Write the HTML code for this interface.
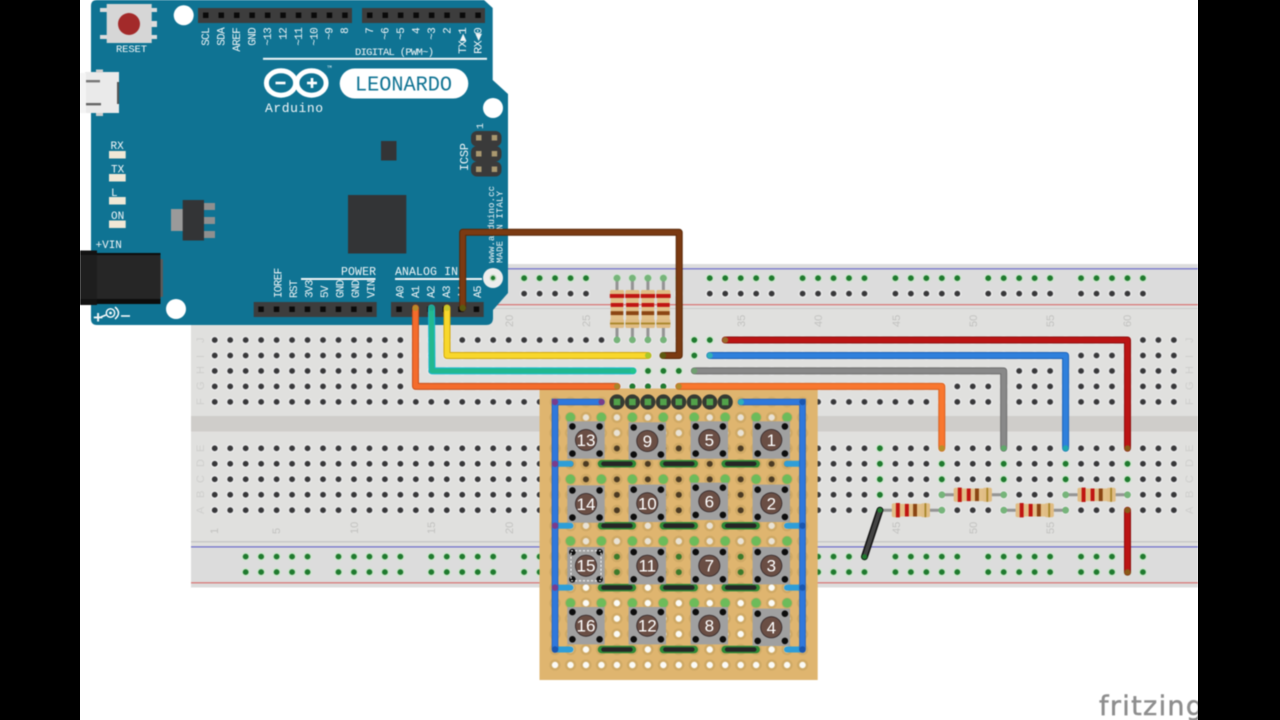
<!DOCTYPE html>
<html lang="en"><head><meta charset="utf-8"><title>Arduino Leonardo keypad wiring</title>
<style>
html,body{margin:0;padding:0;background:#000;width:1280px;height:720px;overflow:hidden}
svg{display:block}
.m{font-family:"Liberation Mono","DejaVu Sans Mono",monospace;fill:#f2f6f7}
.n{font-family:"Liberation Sans",sans-serif;fill:#c2c2c0;font-size:11px}
.b{font-family:"Liberation Sans",sans-serif;fill:#fff;font-size:17px;text-anchor:middle}
.t{font-size:11px;letter-spacing:-.7px;text-anchor:end}
.u{font-size:11px;letter-spacing:-.7px}
</style></head><body>
<svg xmlns="http://www.w3.org/2000/svg" width="1280" height="720" viewBox="0 0 1280 720">
<defs>
<pattern id="hD" patternUnits="userSpaceOnUse" x="207" y="332.27" width="15.47" height="15.47"><circle cx="7.73" cy="7.73" r="4.4" fill="#e9e9e9"/><circle cx="7.73" cy="7.73" r="2.9" fill="#38383a"/></pattern>
<pattern id="rG" patternUnits="userSpaceOnUse" x="237.94" y="270.4" width="92.82" height="15.47"><g fill="#cfe6cf"><circle cx="7.73" cy="7.73" r="4.4"/><circle cx="23.2" cy="7.73" r="4.4"/><circle cx="38.67" cy="7.73" r="4.4"/><circle cx="54.14" cy="7.73" r="4.4"/><circle cx="69.61" cy="7.73" r="4.4"/></g><g fill="#1f7a2e"><circle cx="7.73" cy="7.73" r="2.9"/><circle cx="23.2" cy="7.73" r="2.9"/><circle cx="38.67" cy="7.73" r="2.9"/><circle cx="54.14" cy="7.73" r="2.9"/><circle cx="69.61" cy="7.73" r="2.9"/></g></pattern>
<pattern id="rD" patternUnits="userSpaceOnUse" x="237.94" y="270.4" width="92.82" height="15.47"><g fill="#e9e9e9"><circle cx="7.73" cy="7.73" r="4.4"/><circle cx="23.2" cy="7.73" r="4.4"/><circle cx="38.67" cy="7.73" r="4.4"/><circle cx="54.14" cy="7.73" r="4.4"/><circle cx="69.61" cy="7.73" r="4.4"/></g><g fill="#38383a"><circle cx="7.73" cy="7.73" r="2.9"/><circle cx="23.2" cy="7.73" r="2.9"/><circle cx="38.67" cy="7.73" r="2.9"/><circle cx="54.14" cy="7.73" r="2.9"/><circle cx="69.61" cy="7.73" r="2.9"/></g></pattern>
<pattern id="pT" patternUnits="userSpaceOnUse" x="547.3" y="394.27" width="15.47" height="15.47"><circle cx="7.73" cy="7.73" r="5.4" fill="#d3ac68"/><circle cx="7.73" cy="7.73" r="3" fill="#dcb36e"/></pattern>
<pattern id="pW" patternUnits="userSpaceOnUse" x="547.3" y="394.27" width="15.47" height="15.47"><circle cx="7.73" cy="7.73" r="5.6" fill="#cfa965"/><circle cx="7.73" cy="7.73" r="3.2" fill="#fbfbf6"/></pattern>
<pattern id="pL" patternUnits="userSpaceOnUse" x="547.3" y="394.27" width="15.47" height="15.47"><circle cx="7.73" cy="7.73" r="5.6" fill="#cfa965"/><circle cx="7.73" cy="7.73" r="3.2" fill="#e9e2d4"/></pattern>
<pattern id="pD" patternUnits="userSpaceOnUse" x="547.3" y="394.27" width="15.47" height="15.47"><circle cx="7.73" cy="7.73" r="5.6" fill="#cfa965"/><circle cx="7.73" cy="7.73" r="3" fill="#4b3a22"/></pattern>
<pattern id="pG" patternUnits="userSpaceOnUse" x="547.3" y="394.27" width="15.47" height="15.47"><circle cx="7.73" cy="7.73" r="5.6" fill="#cfa965"/><circle cx="7.73" cy="7.73" r="3" fill="#3c7a2a"/></pattern>
<pattern id="pP" patternUnits="userSpaceOnUse" x="562.74" y="409.62" width="30.94" height="61.88"><circle cx="7.73" cy="7.73" r="4.8" fill="#6dbb5a"/></pattern>
<g id="btn"><rect x="-18.7" y="-18.7" width="37.4" height="37.4" fill="#a0a0a0"/><g fill="#0d0d0d"><circle cx="-13.6" cy="-13.6" r="3.3"/><circle cx="13.6" cy="-13.6" r="3.3"/><circle cx="-13.6" cy="13.6" r="3.3"/><circle cx="13.6" cy="13.6" r="3.3"/></g><circle r="11" fill="#33282a"/><circle r="10.2" fill="#6a4e44"/></g>
<g id="res"><line x1="-30.9" x2="30.9" y1="0" y2="0" stroke="#949494" stroke-width="3"/><circle cx="-30.9" r="3.4" fill="#76b47a"/><circle cx="30.9" r="3.4" fill="#76b47a"/><rect x="-19" y="-6.3" width="38" height="12.6" fill="#e2c088"/><rect x="-19" y="-7" width="9" height="14" rx="2" fill="#e0bd85"/><rect x="10" y="-7" width="9" height="14" rx="2" fill="#e0bd85"/><rect x="-15" y="-7.2" width="3.9" height="14.4" fill="#c01512"/><rect x="-6" y="-6.3" width="3.9" height="12.6" fill="#c01512"/><rect x="2.2" y="-6.3" width="3.9" height="12.6" fill="#8b4513"/><rect x="13.6" y="-7" width="1.8" height="14" fill="#a9862a"/></g>
</defs>
<rect width="1280" height="720" fill="#000"/>
<rect x="80" y="0" width="1118" height="720" fill="#fff"/>
<g style="filter:blur(.5px)">
<!-- breadboard -->
<rect x="191" y="264" width="1007" height="323.5" fill="#e0e0de"/>
<rect x="191" y="264" width="1007" height="42" fill="#dcdcdc"/>
<rect x="191" y="545" width="1007" height="42.5" fill="#dcdcdc"/>
<rect x="191" y="416" width="1007" height="15.5" fill="#cfcdca"/>
<rect x="191" y="268.3" width="1007" height="1" fill="#5a5ac8"/>
<rect x="191" y="304.2" width="1007" height="1" fill="#d9605f"/>
<rect x="191" y="308" width="1007" height="1" fill="#c9c9c9"/>
<rect x="191" y="541.3" width="1007" height="1" fill="#bdbdbd"/>
<rect x="191" y="546.4" width="1007" height="1" fill="#5a5ac8"/>
<rect x="191" y="582.3" width="1007" height="1" fill="#d9605f"/>
<rect x="207" y="332.27" width="974.6" height="77.35" fill="url(#hD)"/>
<rect x="207" y="440.56" width="974.6" height="77.35" fill="url(#hD)"/>
<rect x="237.94" y="270.4" width="928.2" height="15.47" fill="url(#rG)"/>
<rect x="237.94" y="285.87" width="928.2" height="15.47" fill="url(#rD)"/>
<rect x="237.94" y="548.97" width="928.2" height="30.94" fill="url(#rG)"/>
<!-- green connected holes -->
<g fill="#cfe6cf"><circle cx="648" cy="370.9" r="4.4"/><circle cx="663.4" cy="370.9" r="4.4"/><circle cx="678.8" cy="370.9" r="4.4"/><circle cx="694.3" cy="355.5" r="4.4"/><circle cx="694.3" cy="340" r="4.4"/><circle cx="709.8" cy="340" r="4.4"/><circle cx="879.9" cy="448.3" r="4.4"/><circle cx="879.9" cy="463.8" r="4.4"/><circle cx="879.9" cy="479.3" r="4.4"/><circle cx="879.9" cy="494.8" r="4.4"/><circle cx="941.8" cy="463.8" r="4.4"/><circle cx="941.8" cy="479.3" r="4.4"/><circle cx="1003.7" cy="463.8" r="4.4"/><circle cx="1003.7" cy="479.3" r="4.4"/><circle cx="1065.6" cy="463.8" r="4.4"/><circle cx="1065.6" cy="479.3" r="4.4"/><circle cx="1127.5" cy="463.8" r="4.4"/><circle cx="1127.5" cy="479.3" r="4.4"/></g>
<g fill="#1f7a2e"><circle cx="648" cy="370.9" r="2.9"/><circle cx="663.4" cy="370.9" r="2.9"/><circle cx="678.8" cy="370.9" r="2.9"/><circle cx="694.3" cy="355.5" r="2.9"/><circle cx="694.3" cy="340" r="2.9"/><circle cx="709.8" cy="340" r="2.9"/><circle cx="632.4" cy="386.4" r="2.9"/><circle cx="648" cy="386.4" r="2.9"/><circle cx="663.4" cy="386.4" r="2.9"/><circle cx="879.9" cy="448.3" r="2.9"/><circle cx="879.9" cy="463.8" r="2.9"/><circle cx="879.9" cy="479.3" r="2.9"/><circle cx="879.9" cy="494.8" r="2.9"/><circle cx="941.8" cy="463.8" r="2.9"/><circle cx="941.8" cy="479.3" r="2.9"/><circle cx="1003.7" cy="463.8" r="2.9"/><circle cx="1003.7" cy="479.3" r="2.9"/><circle cx="1065.6" cy="463.8" r="2.9"/><circle cx="1065.6" cy="479.3" r="2.9"/><circle cx="1127.5" cy="463.8" r="2.9"/><circle cx="1127.5" cy="479.3" r="2.9"/></g>
<!-- breadboard labels -->
<g class="n">
<text transform="translate(513,327) rotate(-90)">20</text><text transform="translate(590,327) rotate(-90)">25</text><text transform="translate(745,327) rotate(-90)">35</text><text transform="translate(822,327) rotate(-90)">40</text><text transform="translate(900,327) rotate(-90)">45</text><text transform="translate(977,327) rotate(-90)">50</text><text transform="translate(1054,327) rotate(-90)">55</text><text transform="translate(1131,327) rotate(-90)">60</text>
<text transform="translate(218,534) rotate(-90)">1</text><text transform="translate(280,534) rotate(-90)">5</text><text transform="translate(358,534) rotate(-90)">10</text><text transform="translate(435,534) rotate(-90)">15</text><text transform="translate(513,534) rotate(-90)">20</text><text transform="translate(900,534) rotate(-90)">45</text><text transform="translate(977,534) rotate(-90)">50</text><text transform="translate(1054,534) rotate(-90)">55</text>
</g>
<g class="n" style="fill:#cfcfcd">
<text transform="translate(204,343) rotate(-90)">J</text><text transform="translate(204,358) rotate(-90)">I</text><text transform="translate(204,374) rotate(-90)">H</text><text transform="translate(204,390) rotate(-90)">G</text><text transform="translate(204,405) rotate(-90)">F</text><text transform="translate(204,452) rotate(-90)">E</text><text transform="translate(204,467) rotate(-90)">D</text><text transform="translate(204,483) rotate(-90)">C</text><text transform="translate(204,498) rotate(-90)">B</text><text transform="translate(204,514) rotate(-90)">A</text>
<text transform="translate(1193,343) rotate(-90)">J</text><text transform="translate(1193,358) rotate(-90)">I</text><text transform="translate(1193,374) rotate(-90)">H</text><text transform="translate(1193,390) rotate(-90)">G</text><text transform="translate(1193,405) rotate(-90)">F</text><text transform="translate(1193,452) rotate(-90)">E</text><text transform="translate(1193,467) rotate(-90)">D</text><text transform="translate(1193,483) rotate(-90)">C</text><text transform="translate(1193,498) rotate(-90)">B</text><text transform="translate(1193,514) rotate(-90)">A</text>
</g>
<!-- resistors -->
<use href="#res" transform="translate(617,309) rotate(90)"/><use href="#res" transform="translate(632.4,309) rotate(90)"/><use href="#res" transform="translate(647.9,309) rotate(90)"/><use href="#res" transform="translate(663.4,309) rotate(90)"/>
<use href="#res" transform="translate(910.9,510.2)"/><use href="#res" transform="translate(972.8,494.8)"/><use href="#res" transform="translate(1034.7,510.2)"/><use href="#res" transform="translate(1096.6,494.8)"/>
<!-- perfboard -->
<rect x="539.5" y="388.5" width="278.2" height="291.5" fill="#dfb56f"/>
<rect x="547.3" y="394.27" width="263" height="15.47" fill="url(#pT)"/>
<rect x="547.3" y="409.74" width="263" height="30.94" fill="url(#pL)"/>
<rect x="547.3" y="440.68" width="263" height="77.35" fill="url(#pD)"/>
<rect x="547.3" y="518.03" width="263" height="30.94" fill="url(#pL)"/>
<rect x="547.3" y="548.97" width="263" height="30.94" fill="url(#pG)"/>
<rect x="547.3" y="579.91" width="263" height="92.82" fill="url(#pW)"/>
<rect x="562.74" y="409.62" width="247.5" height="201" fill="url(#pP)"/>
<!-- header on perfboard -->
<g fill="#353a32"><circle cx="617" cy="402" r="7.6"/><circle cx="632.4" cy="402" r="7.6"/><circle cx="647.9" cy="402" r="7.6"/><circle cx="663.4" cy="402" r="7.6"/><circle cx="678.8" cy="402" r="7.6"/><circle cx="694.3" cy="402" r="7.6"/><circle cx="709.8" cy="402" r="7.6"/><circle cx="725.2" cy="402" r="7.6"/></g>
<g fill="#52a24a"><rect x="613.7" y="398.7" width="6.6" height="6.6"/><rect x="629.1" y="398.7" width="6.6" height="6.6"/><rect x="644.6" y="398.7" width="6.6" height="6.6"/><rect x="660.1" y="398.7" width="6.6" height="6.6"/><rect x="675.5" y="398.7" width="6.6" height="6.6"/><rect x="691" y="398.7" width="6.6" height="6.6"/><rect x="706.5" y="398.7" width="6.6" height="6.6"/><rect x="721.9" y="398.7" width="6.6" height="6.6"/></g>
<!-- perf jumpers -->
<g fill="none" stroke-linecap="round">
<g stroke="#2e8a36" stroke-width="7.5">
<path d="M601.5 463.8H632.4M663.4 463.8H694.3M725.2 463.8H756.2M601.5 525.7H632.4M663.4 525.7H694.3M725.2 525.7H756.2M601.5 587.6H632.4M663.4 587.6H694.3M725.2 587.6H756.2M601.5 649.5H632.4M663.4 649.5H694.3M725.2 649.5H756.2"/>
</g>
<g stroke="#262626" stroke-width="4.6">
<path d="M603.5 463.8H630.4M665.4 463.8H692.3M727.2 463.8H754.2M603.5 525.7H630.4M665.4 525.7H692.3M727.2 525.7H754.2M603.5 587.6H630.4M665.4 587.6H692.3M727.2 587.6H754.2M603.5 649.5H630.4M665.4 649.5H692.3M727.2 649.5H754.2"/>
</g>
<path d="M555 463.8H570.5M555 525.7H570.5M555 587.6H570.5M555 649.5H570.5M787 463.8H802.5M787 525.7H802.5M787 587.6H802.5M787 649.5H802.5" stroke="#2e9ed8" stroke-width="6"/>
<path d="M601.5 402H555V649.5" stroke="#1f5fbf" stroke-width="6.6"/>
<path d="M601.5 402H555V649.5" stroke="#2f78dc" stroke-width="5"/>
<path d="M741 402H802.5V649.5" stroke="#1f5fbf" stroke-width="6.6"/>
<path d="M741 402H802.5V649.5" stroke="#2f78dc" stroke-width="5"/>
</g>
<g fill="#7a3c8c"><circle cx="555" cy="402" r="3.2"/><circle cx="601.5" cy="402" r="3"/><circle cx="555" cy="463.8" r="3.2"/><circle cx="555" cy="525.7" r="3.2"/><circle cx="555" cy="587.6" r="3.2"/></g>
<circle cx="741" cy="402" r="3" fill="#2fb0b8"/>
<g fill="#1a56b0"><circle cx="802.5" cy="402" r="3.2"/><circle cx="802.5" cy="525.7" r="3.2"/><circle cx="802.5" cy="587.6" r="3.2"/><circle cx="802.5" cy="649.5" r="3.2"/><circle cx="555" cy="649.5" r="3.2"/></g>
<!-- buttons -->
<use href="#btn" x="586" y="440"/><use href="#btn" x="647.3" y="441"/><use href="#btn" x="709.3" y="440"/><use href="#btn" x="771.3" y="440"/>
<use href="#btn" x="586" y="504"/><use href="#btn" x="647.3" y="503.3"/><use href="#btn" x="709.3" y="501.3"/><use href="#btn" x="771.3" y="503.3"/>
<use href="#btn" x="586" y="565.7"/><use href="#btn" x="647.3" y="565.7"/><use href="#btn" x="709.3" y="565.7"/><use href="#btn" x="771.3" y="565.7"/>
<use href="#btn" x="586" y="625.7"/><use href="#btn" x="647.3" y="625.7"/><use href="#btn" x="709.3" y="625.7"/><use href="#btn" x="771.3" y="627.3"/>
<rect x="571" y="550.7" width="30" height="30" fill="none" stroke="#fff" stroke-width="1" stroke-dasharray="2 2"/>
<g class="b">
<text x="586" y="446">13</text><text x="647.3" y="447">9</text><text x="709.3" y="446">5</text><text x="771.3" y="446">1</text>
<text x="586" y="510">14</text><text x="647.3" y="509.3">10</text><text x="709.3" y="507.3">6</text><text x="771.3" y="509.3">2</text>
<text x="586" y="571.7">15</text><text x="647.3" y="571.7">11</text><text x="709.3" y="571.7">7</text><text x="771.3" y="571.7">3</text>
<text x="586" y="631.7">16</text><text x="647.3" y="631.7">12</text><text x="709.3" y="631.7">8</text><text x="771.3" y="633.3">4</text>
</g>
<!-- arduino -->
<path d="M91 6Q91 0 97 0H484L492.7 8V80L508 94V293L493 310V318Q493 325 486 325H97Q91 325 91 319Z" fill="#0f7393"/>
<rect x="85" y="72" width="34" height="41" fill="#eaeaea"/><rect x="80" y="73" width="6" height="40" fill="#f4f4f4"/>
<rect x="96" y="69.5" width="7" height="3" fill="#cfcfcf"/><rect x="96" y="113" width="7" height="3" fill="#cfcfcf"/>
<rect x="86" y="80" width="14" height="2.4" fill="#777"/><rect x="86" y="103" width="15" height="2.4" fill="#666"/><rect x="117" y="82" width="2" height="22" fill="#555"/>
<rect x="100" y="8" width="57" height="4" fill="#dcdcdc"/><rect x="100" y="35" width="57" height="4" fill="#dcdcdc"/><rect x="148" y="21" width="9" height="6" fill="#dcdcdc"/>
<rect x="106.7" y="4" width="45" height="39" fill="#d6d6d6"/><circle cx="129" cy="24" r="11" fill="#a32a2a"/>
<text class="m" x="116" y="52" font-size="10.5" textLength="31">RESET</text>
<circle cx="183.7" cy="15.3" r="10" fill="#fff"/><circle cx="493" cy="108" r="10" fill="#fff"/><circle cx="176" cy="309" r="10" fill="#fff"/>
<circle cx="493" cy="278" r="10" fill="#ededed"/><circle cx="493" cy="278" r="3.6" fill="#c5dcc5"/><circle cx="493" cy="278" r="2.2" fill="#1f7a2e"/>
<!-- headers -->
<g fill="#3d3d3d"><rect x="198" y="8" width="154" height="15"/><rect x="362" y="8" width="123" height="15"/><rect x="253.7" y="302" width="123" height="15"/><rect x="391" y="302" width="92.7" height="15"/></g>
<g fill="#0a0a0a">
<rect x="203" y="12.5" width="5.5" height="5.5"/><rect x="218.5" y="12.5" width="5.5" height="5.5"/><rect x="234" y="12.5" width="5.5" height="5.5"/><rect x="249.4" y="12.5" width="5.5" height="5.5"/><rect x="264.9" y="12.5" width="5.5" height="5.5"/><rect x="280.3" y="12.5" width="5.5" height="5.5"/><rect x="295.8" y="12.5" width="5.5" height="5.5"/><rect x="311.3" y="12.5" width="5.5" height="5.5"/><rect x="326.7" y="12.5" width="5.5" height="5.5"/><rect x="342.2" y="12.5" width="5.5" height="5.5"/>
<rect x="367" y="12.5" width="5.5" height="5.5"/><rect x="382.5" y="12.5" width="5.5" height="5.5"/><rect x="397.9" y="12.5" width="5.5" height="5.5"/><rect x="413.4" y="12.5" width="5.5" height="5.5"/><rect x="428.9" y="12.5" width="5.5" height="5.5"/><rect x="444.3" y="12.5" width="5.5" height="5.5"/><rect x="459.8" y="12.5" width="5.5" height="5.5"/><rect x="475.3" y="12.5" width="5.5" height="5.5"/>
<rect x="258.3" y="306.5" width="5.5" height="5.5"/><rect x="273.8" y="306.5" width="5.5" height="5.5"/><rect x="289.3" y="306.5" width="5.5" height="5.5"/><rect x="304.7" y="306.5" width="5.5" height="5.5"/><rect x="320.2" y="306.5" width="5.5" height="5.5"/><rect x="335.7" y="306.5" width="5.5" height="5.5"/><rect x="351.1" y="306.5" width="5.5" height="5.5"/><rect x="366.6" y="306.5" width="5.5" height="5.5"/>
<rect x="396.3" y="306.5" width="5.5" height="5.5"/><rect x="411.8" y="306.5" width="5.5" height="5.5"/><rect x="427.3" y="306.5" width="5.5" height="5.5"/><rect x="442.7" y="306.5" width="5.5" height="5.5"/><rect x="458.2" y="306.5" width="5.5" height="5.5"/><rect x="473.7" y="306.5" width="5.5" height="5.5"/>
</g>
<!-- top labels -->
<g class="m t">
<text transform="translate(209,28) rotate(-90)">SCL</text><text transform="translate(224.5,28) rotate(-90)">SDA</text><text transform="translate(240,28) rotate(-90)">AREF</text><text transform="translate(255.4,28) rotate(-90)">GND</text><text transform="translate(270.9,28) rotate(-90)">~13</text><text transform="translate(286.3,28) rotate(-90)">12</text><text transform="translate(301.8,28) rotate(-90)">~11</text><text transform="translate(317.3,28) rotate(-90)">~10</text><text transform="translate(332.7,28) rotate(-90)">~9</text><text transform="translate(348.2,28) rotate(-90)">8</text>
<text transform="translate(373,28) rotate(-90)">7</text><text transform="translate(388.5,28) rotate(-90)">~6</text><text transform="translate(403.9,28) rotate(-90)">~5</text><text transform="translate(419.4,28) rotate(-90)">4</text><text transform="translate(434.9,28) rotate(-90)">~3</text><text transform="translate(450.3,28) rotate(-90)">2</text>
<text transform="translate(465.8,28) rotate(-90)" textLength="26" lengthAdjust="spacingAndGlyphs">TX▶1</text><text transform="translate(481.3,28) rotate(-90)" textLength="26" lengthAdjust="spacingAndGlyphs">RX◀0</text>
</g>
<text class="m" x="355" y="55" font-size="10.5" textLength="79">DIGITAL (PWM~)</text>
<rect x="263" y="57.8" width="224" height="2" fill="#f2f6f7"/>
<!-- logo -->
<g fill="none" stroke="#fff" stroke-width="5"><ellipse cx="281" cy="83" rx="14.6" ry="12.2"/><ellipse cx="311.5" cy="83" rx="14.6" ry="12.2"/></g>
<g fill="#fff"><rect x="275.5" y="81.7" width="10" height="2.6"/><rect x="307" y="81.7" width="10" height="2.6"/><rect x="310.7" y="78" width="2.6" height="10"/></g>
<text class="m" x="265" y="112" font-size="13" textLength="58">Arduino</text>
<text class="m" x="327" y="68" font-size="4">TM</text>
<rect x="339.7" y="68.5" width="128.6" height="30" rx="15" fill="#fff"/>
<text x="355" y="90.7" font-family="'Liberation Mono',monospace" font-size="21" fill="#0f7393" textLength="97" lengthAdjust="spacingAndGlyphs">LEONARDO</text>
<!-- LEDs -->
<g fill="#f0e8d6"><rect x="109" y="151" width="16.7" height="7.5"/><rect x="109" y="174" width="16.7" height="7.5"/><rect x="109" y="197" width="16.7" height="7.5"/><rect x="109" y="220.5" width="16.7" height="7.5"/></g>
<g class="m" font-size="11"><text x="110.5" y="149">RX</text><text x="111" y="172.5">TX</text><text x="111" y="196">L</text><text x="111" y="219">ON</text></g>
<!-- chips -->
<rect x="171" y="209" width="12" height="22" fill="#9a9a9a"/><rect x="204" y="203" width="11" height="7" fill="#8f8f8f"/><rect x="204" y="217" width="11" height="7" fill="#8f8f8f"/><rect x="204" y="231" width="11" height="7" fill="#8f8f8f"/>
<rect x="182.7" y="200" width="21.3" height="40.5" fill="#333436"/>
<rect x="381" y="141" width="15.5" height="19.5" fill="#333436"/><rect x="348" y="195" width="58.3" height="58.5" fill="#333436"/>
<!-- ICSP -->
<rect x="471" y="131" width="30.5" height="15.5" rx="6" fill="#3a3a3a"/><rect x="471" y="146" width="30.5" height="15.5" rx="6" fill="#3a3a3a"/><rect x="471" y="161.5" width="30.5" height="15" rx="6" fill="#3a3a3a"/>
<g fill="#a9986f"><rect x="476" y="135" width="5.5" height="5.5"/><rect x="491.7" y="135" width="5.5" height="5.5"/><rect x="476" y="151" width="5.5" height="5.5"/><rect x="491.7" y="151" width="5.5" height="5.5"/><rect x="476" y="166.5" width="5.5" height="5.5"/><rect x="491.7" y="166.5" width="5.5" height="5.5"/></g>
<text class="m" transform="translate(468,171) rotate(-90)" font-size="12" textLength="28">ICSP</text>
<text class="m" transform="translate(483,129) rotate(-90)" font-size="10">1</text>
<text class="m" transform="translate(494,263) rotate(-90)" font-size="9" textLength="77">www.arduino.cc</text>
<text class="m" transform="translate(502.5,263) rotate(-90)" font-size="9" textLength="72">MADE IN ITALY</text>
<!-- jack -->
<rect x="160" y="259" width="3" height="38" rx="1" fill="#5a5a5a"/>
<rect x="97" y="253" width="63.5" height="51" fill="#0c0c0c"/><rect x="97" y="255" width="63.5" height="44" fill="#262626"/><rect x="80" y="250.5" width="17" height="54.5" fill="#121212"/><rect x="80" y="255" width="17" height="44" fill="#1e1e1e"/>
<text class="m" x="95.5" y="248" font-size="11">+VIN</text>
<text class="m" x="93" y="323" font-size="17" font-weight="bold">+</text>
<circle cx="110.5" cy="313" r="4.2" fill="none" stroke="#fff" stroke-width="1.4"/><circle cx="110.5" cy="313" r="1.4" fill="#fff"/><path d="M115 307Q122 313 115 319M101 317L106 315M121 316H130" stroke="#fff" stroke-width="1.5" fill="none"/>
<!-- bottom labels -->
<g class="m u">
<text transform="translate(281.5,298) rotate(-90)">IOREF</text><text transform="translate(297,298) rotate(-90)">RST</text><text transform="translate(312.4,298) rotate(-90)">3V3</text><text transform="translate(327.9,298) rotate(-90)">5V</text><text transform="translate(343.4,298) rotate(-90)">GND</text><text transform="translate(358.8,298) rotate(-90)">GND</text><text transform="translate(374.3,298) rotate(-90)">VIN</text>
<text transform="translate(403.5,298) rotate(-90)">A0</text><text transform="translate(419,298) rotate(-90)">A1</text><text transform="translate(434.5,298) rotate(-90)">A2</text><text transform="translate(450,298) rotate(-90)">A3</text><text transform="translate(465.4,298) rotate(-90)">A4</text><text transform="translate(480.9,298) rotate(-90)">A5</text>
</g>
<text class="m" x="341" y="275" font-size="11.5" textLength="35">POWER</text>
<text class="m" x="395" y="275" font-size="11.5" textLength="63">ANALOG IN</text>
<rect x="301" y="278" width="74.5" height="2" fill="#f2f6f7"/><rect x="395" y="278" width="87" height="2" fill="#f2f6f7"/>
<!-- wires -->
<g fill="none" stroke-linecap="round" stroke-linejoin="round">
<path d="M415.5 308V386.4H617" stroke="#c9501c" stroke-width="7"/><path d="M415.5 308V386.4H617" stroke="#f46c2c" stroke-width="5"/>
<path d="M678.8 386.4H941.8V448.3" stroke="#d9601f" stroke-width="7"/><path d="M678.8 386.4H941.8V448.3" stroke="#f9772f" stroke-width="5"/>
<path d="M431.5 308L432 370.9H633" stroke="#19b8d0" stroke-width="7"/><path d="M431.5 308L432 370.9H633" stroke="#22b88f" stroke-width="5"/>
<path d="M447 308V355.5H648" stroke="#d3a90f" stroke-width="7"/><path d="M447 308V355.5H648" stroke="#f8d72c" stroke-width="5"/>
<path d="M462.7 308V232.3H679.2V355.5H663" stroke="#5a2807" stroke-width="7"/><path d="M462.7 308V232.3H679.2V355.5H663" stroke="#7b3a12" stroke-width="5"/>
<path d="M725.2 340H1127.5V448.3" stroke="#8d0e0e" stroke-width="7"/><path d="M725.2 340H1127.5V448.3" stroke="#bb1414" stroke-width="5"/>
<path d="M709.8 355.5H1065.6V448.3" stroke="#1e63b8" stroke-width="7"/><path d="M709.8 355.5H1065.6V448.3" stroke="#2f80dc" stroke-width="5"/>
<path d="M694.3 370.9H1003.7V448.3" stroke="#6d6d6d" stroke-width="7"/><path d="M694.3 370.9H1003.7V448.3" stroke="#898989" stroke-width="5"/>
<path d="M1127.5 510.2V572.1" stroke="#8d0e0e" stroke-width="7"/><path d="M1127.5 510.2V572.1" stroke="#bb1414" stroke-width="5"/>
<path d="M879.9 510.2L864.5 556.7" stroke="#111" stroke-width="7"/><path d="M879.9 510.2L864.5 556.7" stroke="#444" stroke-width="4"/>
</g>
<g>
<circle cx="415.5" cy="308" r="3" fill="#b98a2a"/><circle cx="431.5" cy="308" r="3" fill="#1fa98a"/><circle cx="447" cy="308" r="3" fill="#c9c72a"/><circle cx="462.7" cy="308" r="3.2" fill="#5a5a10"/>
<circle cx="617" cy="386.4" r="3" fill="#a9852a"/><circle cx="633" cy="370.9" r="3" fill="#22c58a"/><circle cx="648" cy="355.5" r="3" fill="#a8c82a"/><circle cx="663" cy="355.5" r="3.2" fill="#5d5a10"/>
<circle cx="678.8" cy="386.4" r="3" fill="#b08c2e"/><circle cx="694.3" cy="370.9" r="3" fill="#6fa070"/><circle cx="709.8" cy="355.5" r="3" fill="#2fb0b8"/><circle cx="725.2" cy="340" r="3" fill="#9a6a2a"/>
<circle cx="941.8" cy="448.3" r="3" fill="#b8902a"/><circle cx="1003.7" cy="448.3" r="3" fill="#5fa86a"/><circle cx="1065.6" cy="448.3" r="3" fill="#1fa8b0"/><circle cx="1127.5" cy="448.3" r="3" fill="#8a5a18"/>
<circle cx="1127.5" cy="510.2" r="3" fill="#8a5a18"/><circle cx="1127.5" cy="572.1" r="3" fill="#8a5a18"/>
<circle cx="879.9" cy="510.2" r="2.6" fill="#1f7a2e"/><circle cx="864.5" cy="556.7" r="2.6" fill="#1f7a2e"/>
</g>
<text x="1099" y="715" font-family="'DejaVu Sans',sans-serif" font-size="27" fill="#8e8e8e" stroke="#8e8e8e" stroke-width=".5" textLength="104">fritzing</text>
</g>
<rect x="1198" y="0" width="82" height="720" fill="#000"/>
<rect x="0" y="0" width="80" height="720" fill="#000"/>
</svg>
</body></html>
